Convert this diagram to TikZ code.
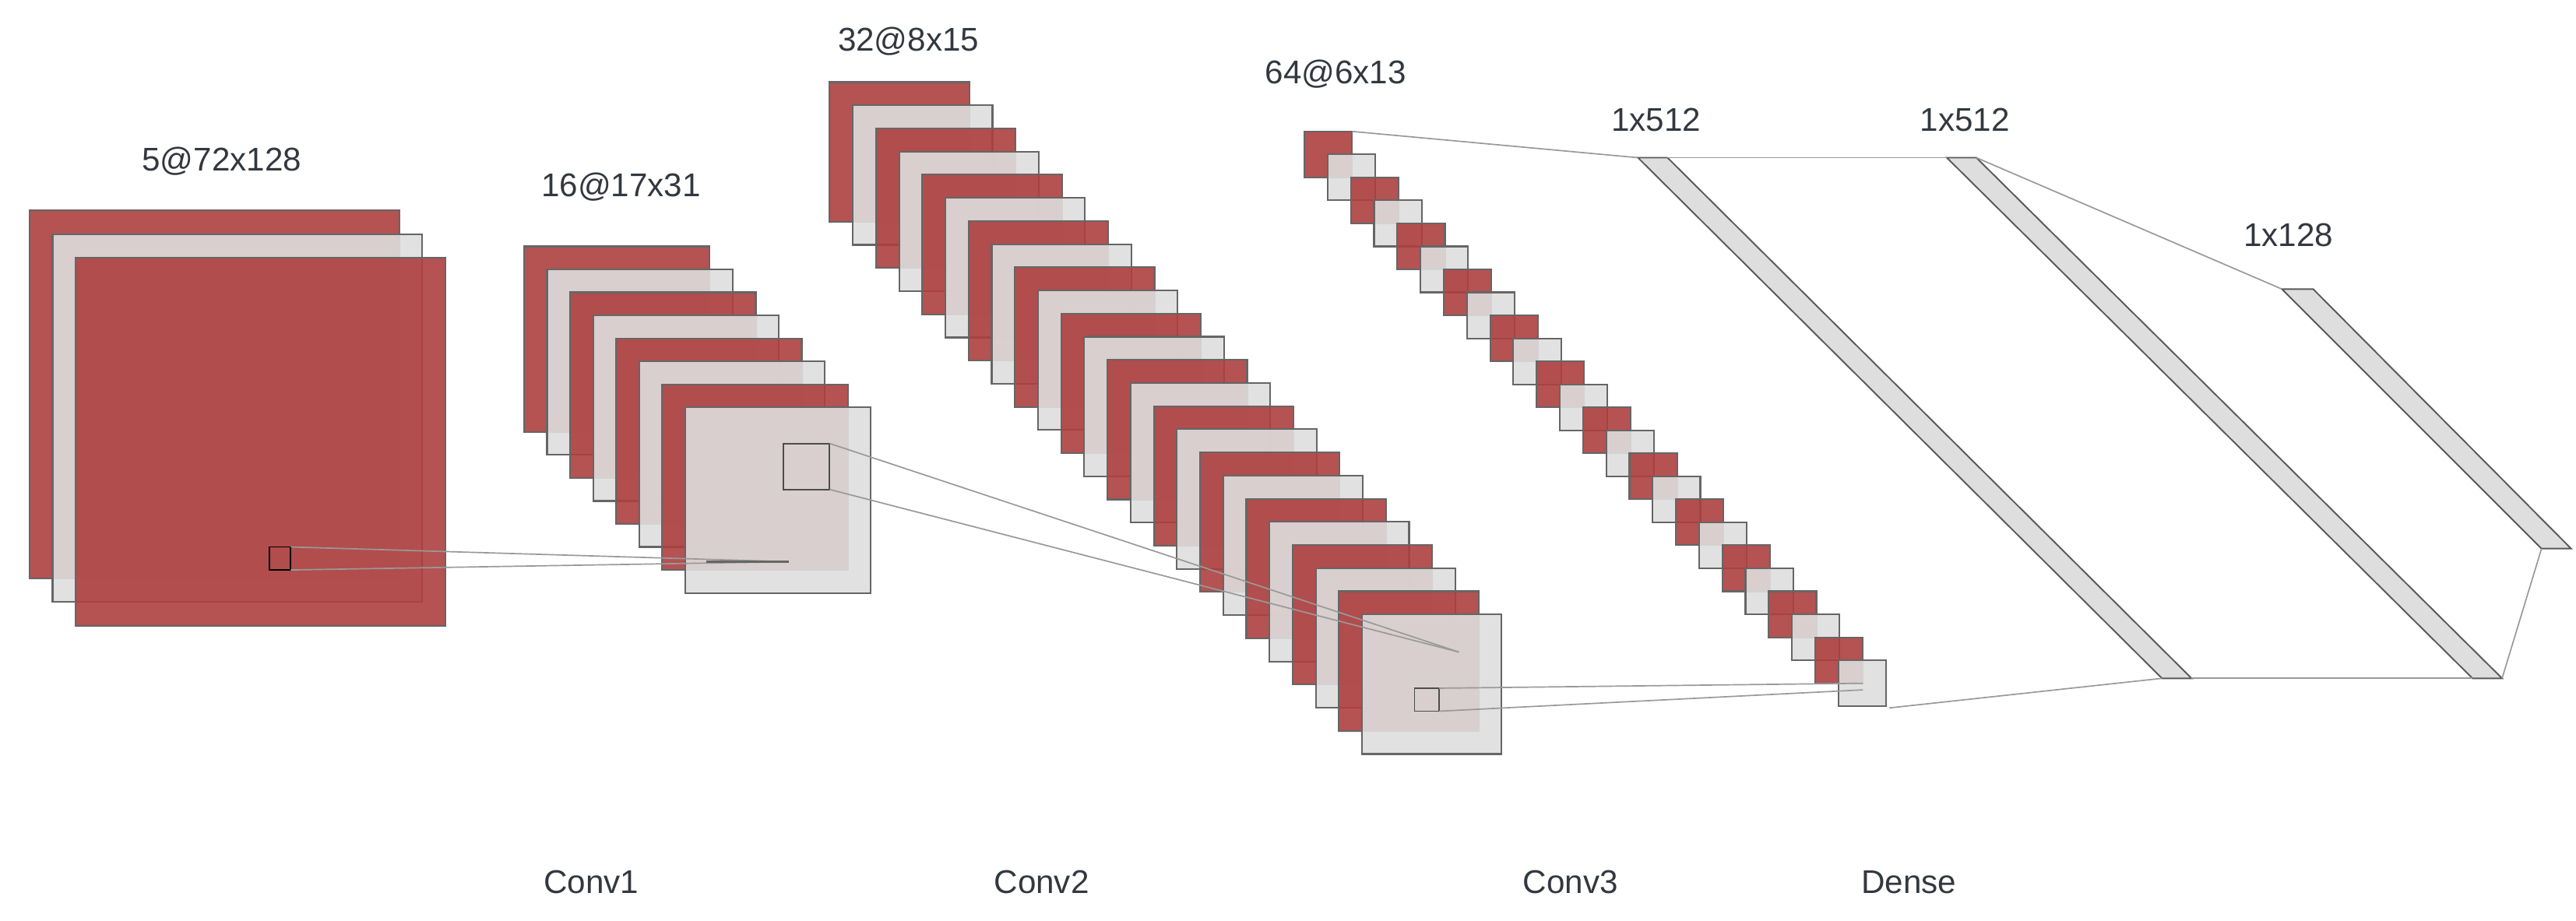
\documentclass[tikz,border=0pt]{standalone}
\usepackage{fontspec}
\setmainfont{Liberation Sans}
\definecolor{fm}{HTML}{AD3F3F}
\definecolor{fg}{HTML}{DEDEDE}
\definecolor{tx}{HTML}{333840}
\begin{document}
\begin{tikzpicture}[x=1pt,y=-1pt,
  fmap/.style={draw=black!60,line width=1pt,fill opacity=0.9},
  lbl/.style={font=\fontsize{20}{24}\selectfont,text=tx,inner sep=0pt},
  conn/.style={draw=black!40,line width=0.8pt},
  strip/.style={draw=black!65,fill=fg,line width=0.9pt}]
\useasboundingbox (0,0) rectangle (1568,560.7);
% block 1
\foreach \i in {0,1,2}{
  \pgfmathtruncatemacro\od{mod(\i,2)}
  \ifnum\od=0 \def\cc{fm}\else\def\cc{fg}\fi
  \filldraw[fmap,fill=\cc] (18+14*\i,128+14.5*\i) rectangle ++(225,224);
}
\draw[black,line width=0.9pt] (164,333) rectangle (177,347);
% block 2
\foreach \i in {0,...,7}{
  \pgfmathtruncatemacro\od{mod(\i,2)}
  \ifnum\od=0 \def\cc{fm}\else\def\cc{fg}\fi
  \filldraw[fmap,fill=\cc] (319+14*\i,150+14*\i) rectangle ++(113,113);
}
\draw[black!70,line width=0.9pt] (477,270) rectangle (505,298);
\draw[conn] (177,333) -- (480,342);
\draw[conn] (177,347) -- (480,342);
\draw[black!60,line width=1pt] (430,342) -- (480,342);
% block 3
\foreach \i in {0,...,23}{
  \pgfmathtruncatemacro\od{mod(\i,2)}
  \ifnum\od=0 \def\cc{fm}\else\def\cc{fg}\fi
  \filldraw[fmap,fill=\cc] (505+14.09*\i,50+14.09*\i) rectangle ++(85,85);
}
\draw[black!70,line width=0.9pt] (861,419) rectangle (876,433);
\draw[conn] (505,270) -- (888,397);
\draw[conn] (505,298) -- (888,397);
% block 4
\foreach \i in {0,...,23}{
  \pgfmathtruncatemacro\od{mod(\i,2)}
  \ifnum\od=0 \def\cc{fm}\else\def\cc{fg}\fi
  \filldraw[fmap,fill=\cc] (794+14.13*\i,80+14.0*\i) rectangle ++(29,28);
}
\draw[conn] (876,419) -- (1134,416);
\draw[conn] (876,433) -- (1134,420);
% dense strips
\filldraw[strip] (997,96) -- (1015,96) -- (1334,413) -- (1316,413) -- cycle;
\filldraw[strip] (1185,96) -- (1203,96) -- (1523,413) -- (1505,413) -- cycle;
\filldraw[strip] (1389,176) -- (1408,176) -- (1565,334) -- (1547,334) -- cycle;
\draw[conn] (823,80) -- (997,96);
\draw[conn] (1150,431) -- (1316,413);
\draw[conn] (1015,96) -- (1185,96);
\draw[conn] (1334,413) -- (1505,413);
\draw[conn] (1203,96) -- (1389,176);
\draw[conn] (1523,413) -- (1547,334);
% labels
\node[lbl] (l1) at (135,98) {5@72x128};
\node[lbl] (l2) at (378,114) {16@17x31};
\node[lbl] (l3) at (553,25) {32@8x15};
\node[lbl] (l4) at (813,45) {64@6x13};
\node[lbl] (l5) at (1008,73) {1x512};
\node[lbl] (l6) at (1196,73) {1x512};
\node[lbl] (l7) at (1393,143) {1x128};
\node[lbl] (c1) at (360,537) {Conv1};
\node[lbl] (c2) at (634,537) {Conv2};
\node[lbl] (c3) at (956,537) {Conv3};
\node[lbl] (c4) at (1162,537) {Dense};
\end{tikzpicture}
\end{document}
